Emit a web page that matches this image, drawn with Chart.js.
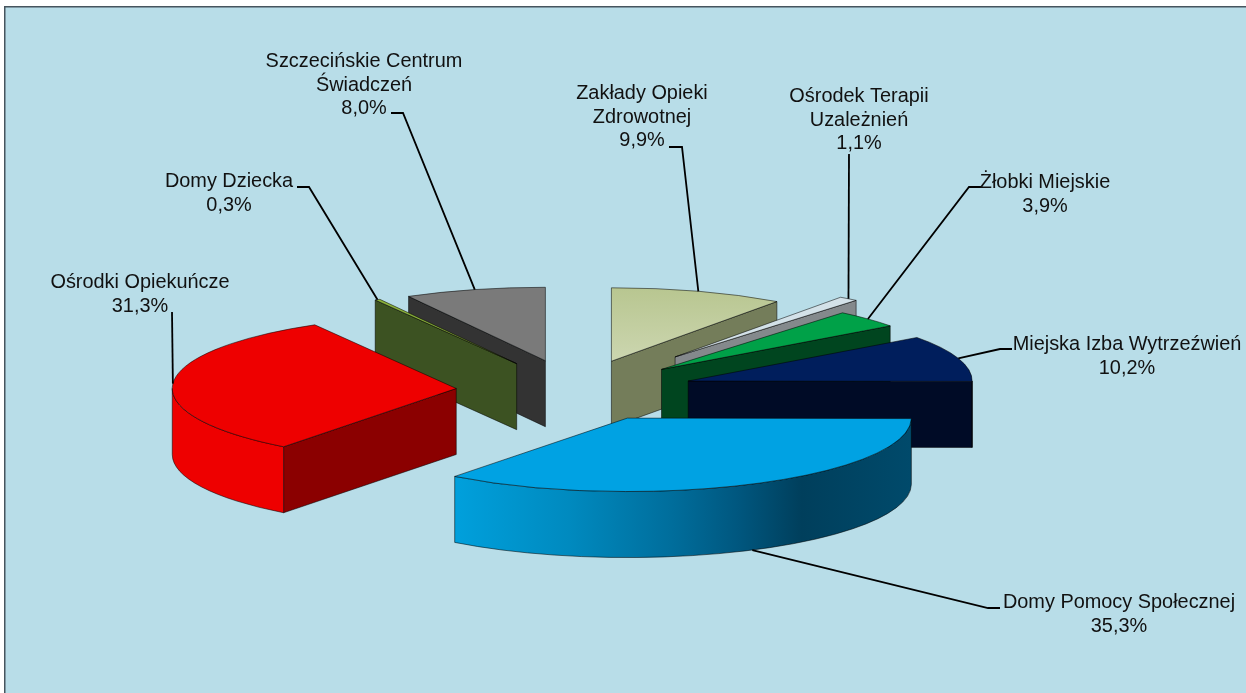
<!DOCTYPE html>
<html lang="pl">
<head>
<meta charset="utf-8">
<title>Wykres kołowy</title>
<script src="https://cdn.jsdelivr.net/npm/chart.js@4/dist/chart.umd.min.js"></script>
<style>html,body{margin:0;padding:0;background:#fff}canvas{display:block}</style>
</head>
<body>
<canvas id="c" width="1246" height="693"></canvas>
<script>
const categories = [
  'Zakłady Opieki Zdrowotnej', 'Ośrodek Terapii Uzależnień', 'Żłobki Miejskie',
  'Miejska Izba Wytrzeźwień', 'Domy Pomocy Społecznej', 'Ośrodki Opiekuńcze',
  'Domy Dziecka', 'Szczecińskie Centrum Świadczeń'
];
const values = [9.9, 1.1, 3.9, 10.2, 35.3, 31.3, 0.3, 8.0];
const labelLines = [
  ['Zakłady Opieki', 'Zdrowotnej'], ['Ośrodek Terapii', 'Uzależnień'], ['Żłobki Miejskie'],
  ['Miejska Izba Wytrzeźwień'], ['Domy Pomocy Społecznej'], ['Ośrodki Opiekuńcze'],
  ['Domy Dziecka'], ['Szczecińskie Centrum', 'Świadczeń']
];
const topColors = ['#c2cea0', '#d3e1e8', '#00a148', '#001e5c', '#00a2e3', '#ee0000', '#8cb33c', '#7a7a7a'];
const sideColors = ['#747d5a', '#84898c', '#00451f', '#000b26', '#00405c', '#8b0000', '#3c5222', '#333333'];
const wallColors = ['#747d5a', '#84898c', '#00451f', '#000b26', null, '#ee0000', '#3c5222', '#333333'];
const explode = [119, 164, 119, 119, 119, 119, 119, 119];
const labelAnchors = [[642, 94], [859, 97], [1045, 183], [1127, 345], [1119, 603], [140, 283], [229, 182], [364, 62]];
const leaderKnees = [
  [[669, 147], [682, 147]], [[849, 154]], [[981, 187], [969, 187]], [[1012, 349], [1000, 349]],
  [[1000, 608], [988, 608]], [[172, 312]], [[297, 187], [309, 187]], [[391, 113], [403, 113]]
];
const RADIUS = 284, SQUASH = 0.2585, DEPTH = 66, LINE_H = 23.5;
const FONT = '19.9px "Liberation Sans", Arial, sans-serif';

const pctText = v => v.toFixed(1).replace('.', ',') + '%';

const frame = {
  id: 'frame',
  beforeDraw(chart) {
    const g = chart.ctx;
    g.save();
    g.fillStyle = '#b8dde8';
    g.fillRect(4, 6, 1242, 687);
    g.strokeStyle = '#46555e';
    g.lineWidth = 1.5;
    g.beginPath();
    g.moveTo(4.75, 693); g.lineTo(4.75, 6.75); g.lineTo(1246, 6.75);
    g.stroke();
    g.restore();
  }
};

function geom(arc, i) {
  const mid = (arc.startAngle + arc.endAngle) / 2;
  const sx = Math.cos(mid) * explode[i], sy = Math.sin(mid) * explode[i];
  const ax = arc.x + sx, ay = arc.y + sy * SQUASH;
  const pt = (t, dz) => [ax + arc.outerRadius * Math.cos(t), ay + arc.outerRadius * SQUASH * Math.sin(t) + (dz || 0)];
  return { mid, sx, sy, ax, ay, pt };
}

function radialFace(g, a, p, color) {
  g.beginPath();
  g.moveTo(a[0], a[1]); g.lineTo(p[0], p[1]);
  g.lineTo(p[0], p[1] + DEPTH); g.lineTo(a[0], a[1] + DEPTH);
  g.closePath();
  g.fillStyle = color; g.fill();
  g.stroke();
}

const pie3d = {
  id: 'pie3d',
  beforeDatasetDraw(chart) {
    const g = chart.ctx, arcs = chart.getDatasetMeta(0).data;
    const order = arcs.map((a, i) => i).sort((p, q) =>
      Math.sin(geom(arcs[p], p).mid) - Math.sin(geom(arcs[q], q).mid));
    order.forEach(i => {
      const arc = arcs[i], s = geom(arc, i), R = arc.outerRadius, b = R * SQUASH;
      g.save();
      g.lineWidth = 0.8;
      g.strokeStyle = 'rgba(0,0,0,0.65)';
      const apex = [s.ax, s.ay];
      if (Math.cos(arc.startAngle) < -1e-6) radialFace(g, apex, s.pt(arc.startAngle), sideColors[i]);
      if (Math.cos(arc.endAngle) > 1e-6) radialFace(g, apex, s.pt(arc.endAngle), sideColors[i]);
      const from = Math.max(arc.startAngle, 0), to = Math.min(arc.endAngle, Math.PI);
      if (to > from) {
        g.beginPath();
        g.ellipse(s.ax, s.ay, R, b, 0, from, to);
        g.ellipse(s.ax, s.ay + DEPTH, R, b, 0, to, from, true);
        g.closePath();
        if (wallColors[i]) {
          g.fillStyle = wallColors[i];
        } else {
          const w = g.createLinearGradient(s.pt(arc.endAngle)[0], 0, s.ax + R, 0);
          w.addColorStop(0, '#00a0dc');
          w.addColorStop(0.25, '#008abf');
          w.addColorStop(0.48, '#006d9b');
          w.addColorStop(0.62, '#00577f');
          w.addColorStop(0.76, '#003f5c');
          w.addColorStop(1, '#004a6b');
          g.fillStyle = w;
        }
        g.fill();
        g.stroke();
      }
      // top face: drawn by the library's own arc element under a squash transform
      g.save();
      g.translate(arc.x, arc.y);
      g.scale(1, SQUASH);
      g.translate(-arc.x, -arc.y);
      g.translate(s.sx, s.sy);
      arc.draw(g);
      g.restore();
      g.beginPath();
      g.moveTo(s.ax, s.ay);
      g.ellipse(s.ax, s.ay, R, b, 0, arc.startAngle, arc.endAngle);
      g.closePath();
      g.stroke();
      g.restore();
    });
    return false;
  },
  afterDatasetsDraw(chart) {
    const g = chart.ctx, arcs = chart.getDatasetMeta(0).data;
    g.save();
    g.strokeStyle = '#000';
    g.lineWidth = 1.8;
    g.fillStyle = '#111';
    g.font = FONT;
    g.textAlign = 'center';
    g.textBaseline = 'middle';
    arcs.forEach((arc, i) => {
      const s = geom(arc, i);
      const onWall = Math.sin(s.mid) > 0.5;
      const end = s.pt(s.mid, onWall ? DEPTH : 0);
      g.beginPath();
      leaderKnees[i].forEach((p, k) => k ? g.lineTo(p[0], p[1]) : g.moveTo(p[0], p[1]));
      g.lineTo(end[0], end[1]);
      g.stroke();
      const lines = labelLines[i].concat(pctText(values[i]));
      lines.forEach((t, k) => g.fillText(t, labelAnchors[i][0], labelAnchors[i][1] + k * LINE_H));
    });
    g.restore();
  }
};

const cv = document.getElementById('c');
const ctx0 = cv.getContext('2d');
const cyCentre = 390.5;
const zakladyFill = ctx0.createLinearGradient(0, cyCentre - RADIUS, 0, cyCentre);
zakladyFill.addColorStop(0, '#b8c690');
zakladyFill.addColorStop(1, '#ccd6b0');
const fills = topColors.slice();
fills[0] = zakladyFill;

new Chart(cv, {
  type: 'pie',
  data: {
    labels: categories,
    datasets: [{
      data: values,
      backgroundColor: fills,
      borderWidth: 0,
      clip: false
    }]
  },
  options: {
    responsive: false,
    animation: false,
    radius: RADIUS,
    layout: { padding: { top: 88, right: 96 } },
    plugins: { legend: { display: false }, tooltip: { enabled: false }, title: { display: false } }
  },
  plugins: [frame, pie3d]
});
</script>
</body>
</html>
